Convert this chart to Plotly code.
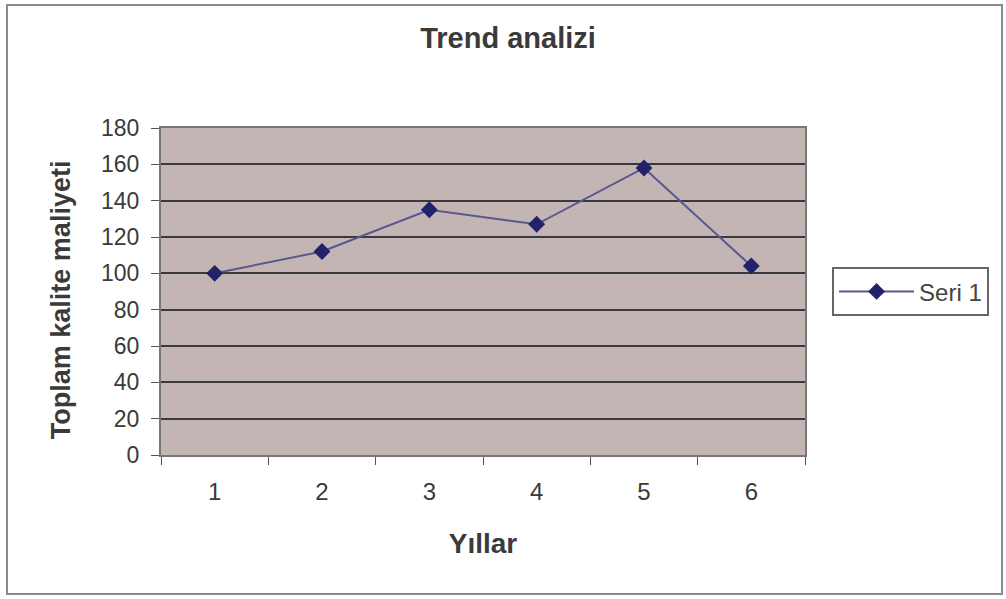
import plotly.graph_objects as go

# Yıllık toplam kalite maliyeti
years = ["1", "2", "3", "4", "5", "6"]
costs = [100, 112, 135, 127, 158, 104]
y_ticks = [0, 20, 40, 60, 80, 100, 120, 140, 160, 180]

sans = "Liberation Sans, Arial, sans-serif"
ink = "#3a3a3a"

fig = go.Figure()
fig.add_trace(go.Scatter(
    x=years, y=costs, name="Seri 1", mode="lines+markers",
    line=dict(color="#58588f", width=2),
    marker=dict(symbol="diamond", size=13, color="#22226a"),
))

fig.update_layout(
    width=1006, height=599,
    margin=dict(l=161, r=201, t=128, b=144),
    paper_bgcolor="white",
    plot_bgcolor="#c4b5b5",
    title=dict(text="<b>Trend analizi</b>", x=0.505, xanchor="center",
               y=0.937, yanchor="middle",
               font=dict(family=sans, size=29, color=ink)),
    showlegend=True,
    legend=dict(x=1.042, y=0.574, xanchor="left", yanchor="top",
                bordercolor="#666666", borderwidth=2, bgcolor="white",
                itemwidth=75,
                font=dict(family=sans, size=24, color="#444444")),
    xaxis=dict(
        type="category", range=[-0.5, 5.5], tickson="boundaries",
        ticks="outside", ticklen=8, tickcolor="#555555",
        ticklabelstandoff=14,
        showline=True, linecolor="#777777", linewidth=2, mirror=True,
        showgrid=False, zeroline=False,
        tickfont=dict(family=sans, size=24, color=ink),
        title=dict(text="<b>Yıllar</b>", standoff=30,
                   font=dict(family=sans, size=28, color=ink)),
    ),
    yaxis=dict(
        range=[0, 180], tickvals=y_ticks,
        ticks="outside", ticklen=8, tickcolor="#555555",
        ticklabelstandoff=7,
        showline=True, linecolor="#777777", linewidth=2, mirror=True,
        showgrid=True, gridcolor="#3a3a3a", gridwidth=1.6, zeroline=False,
        tickfont=dict(family=sans, size=23, color=ink),
    ),
    annotations=[dict(
        text="<b>Toplam kalite maliyeti</b>", textangle=-90,
        xref="paper", yref="paper", x=-0.155, y=0.474,
        xanchor="center", yanchor="middle", showarrow=False,
        font=dict(family=sans, size=27, color=ink),
    )],
    shapes=[dict(
        type="rect", xref="paper", yref="paper",
        x0=(7 - 161) / 644, x1=(1002 - 161) / 644,
        y0=(455 - 594) / 327, y1=(455 - 5) / 327,
        line=dict(color="#8a8a8a", width=2), fillcolor="rgba(0,0,0,0)",
        layer="below",
    )],
)

fig.write_html("out.html")
